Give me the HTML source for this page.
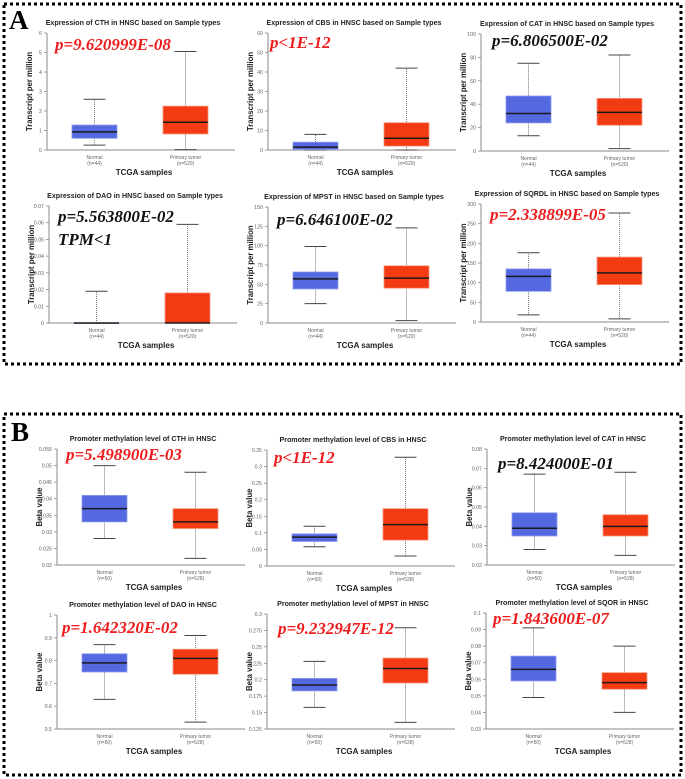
<!DOCTYPE html>
<html><head><meta charset="utf-8">
<style>
html,body{margin:0;padding:0;background:#fff;}
svg{display:block;}
.t{font-family:"Liberation Sans",Arial,sans-serif;}
</style></head>
<body>
<svg id="fig" width="685" height="779" viewBox="0 0 685 779" xmlns="http://www.w3.org/2000/svg">
<rect x="0" y="0" width="685" height="779" fill="#fff"/>
<rect x="4" y="4" width="677" height="360" fill="none" stroke="#000" stroke-width="3" stroke-dasharray="3 3"/>
<rect x="4" y="414" width="677" height="361" fill="none" stroke="#000" stroke-width="3" stroke-dasharray="3 3"/>
<text x="9" y="29" font-family="Liberation Serif,serif" font-weight="bold" font-size="27">A</text>
<text x="11" y="441" font-family="Liberation Serif,serif" font-weight="bold" font-size="27">B</text>
<g id="charts"></g>
</svg>
<script>
// ---- data ----
const titles = [
 "Expression of CTH in HNSC based on Sample types",
 "Expression of CBS in HNSC based on Sample types",
 "Expression of CAT in HNSC based on Sample types",
 "Expression of DAO in HNSC based on Sample types",
 "Expression of MPST in HNSC based on Sample types",
 "Expression of SQRDL in HNSC based on Sample types",
 "Promoter methylation level of CTH in HNSC",
 "Promoter methylation level of CBS in HNSC",
 "Promoter methylation level of CAT in HNSC",
 "Promoter methylation level of DAO in HNSC",
 "Promoter methylation level of MPST in HNSC",
 "Promoter methylation level of SQOR in HNSC"
];
const pValues = ["p=9.620999E-08","p<1E-12","p=6.806500E-02","p=5.563800E-02","p=6.646100E-02","p=2.338899E-05",
 "p=5.498900E-03","p<1E-12","p=8.424000E-01","p=1.642320E-02","p=9.232947E-12","p=1.843600E-07"];
const pSignificant = [true,true,false,false,false,true, true,true,false,true,true,true];
const yMins = [0,0,0,0,0,0, 0.02,0,0.02,0.5,0.125,0.03];
const yMaxs = [6,60,100,0.07,150,300, 0.055,0.35,0.08,1.0,0.3,0.1];
const ySteps = [1,10,20,0.01,25,50, 0.005,0.05,0.01,0.1,0.025,0.01];
// [whiskerLow, q1, median, q3, whiskerHigh]
const normalStats = [
 [0.25,0.6,0.93,1.28,2.6],
 [0,0.3,1.5,4,8],
 [13,24,32,47,75],
 [0,0,0,0,0.019],
 [25,44,57,66,99],
 [18,78,116,135,176],
 [0.028,0.033,0.037,0.041,0.050],
 [0.058,0.074,0.087,0.097,0.12],
 [0.028,0.035,0.039,0.047,0.067],
 [0.63,0.75,0.79,0.83,0.87],
 [0.158,0.183,0.192,0.202,0.228],
 [0.049,0.059,0.066,0.074,0.091]
];
const tumorStats = [
 [0.02,0.82,1.42,2.25,5.05],
 [0,2,6,14,42],
 [2,22,33,45,82],
 [0,0,0,0.018,0.059],
 [3,45,58,74,123],
 [8,95,125,165,277],
 [0.022,0.031,0.033,0.037,0.048],
 [0.03,0.078,0.125,0.173,0.328],
 [0.025,0.035,0.040,0.046,0.068],
 [0.53,0.74,0.81,0.85,0.91],
 [0.135,0.195,0.217,0.233,0.279],
 [0.040,0.054,0.058,0.064,0.080]
];
const normalN = ["(n=44)","(n=44)","(n=44)","(n=44)","(n=44)","(n=44)","(n=50)","(n=50)","(n=50)","(n=50)","(n=50)","(n=50)"];
const tumorN = ["(n=520)","(n=520)","(n=520)","(n=520)","(n=520)","(n=520)","(n=528)","(n=528)","(n=528)","(n=528)","(n=528)","(n=528)"];
const yLabels = ["Transcript per million","Beta value"];

// ---- layout (not data) ----
const axisX = [47,268,481,49,268,481, 57,267,487,57,267,486];
const plotTop = [33,33,34,206,207,204, 449,450,449,615,614,613];
const plotBot = [150,150,151,323,323,322, 565,566,565,729,729,729];
const pPos = [[55,50],[270,48],[492,46],[58,222],[277,225],[490,220],[66,460],[274,463],[498,469],[62,633],[278,634],[493,624]];

const NS="http://www.w3.org/2000/svg";
const root=document.getElementById('charts');
function mk(tag,attrs,parent){const e=document.createElementNS(NS,tag);for(const k in attrs)e.setAttribute(k,attrs[k]);(parent||root).appendChild(e);return e;}
function fmt(v,step){const d=Math.max(0,Math.ceil(-Math.log10(step)+0.001)+ (String(step).length>4?1:0));let s=v.toFixed(Math.min(d+1,4));s=s.replace(/\.?0+$/,'');return s===''?'0':s;}

for(let i=0;i<12;i++){
  const g=mk('g',{});
  
  
  const ax=axisX[i], top=plotTop[i], bot=plotBot[i], end=ax+188;
  const y=v=>bot-(v-yMins[i])/(yMaxs[i]-yMins[i])*(bot-top);
  const xs=v=>ax+v;
  const t=mk('text',{x:ax+86,y:top-8,'text-anchor':'middle','font-size':'7.1','font-weight':'bold',fill:'#222',class:'t'},g);
  t.textContent=titles[i];
  
  
  const ya=mk('line',{x1:ax,y1:top,x2:ax,y2:bot,stroke:'#8a8a8a','stroke-width':1},g);
  
  
  const xa=mk('line',{x1:ax,y1:bot,x2:end,y2:bot,stroke:'#8a8a8a','stroke-width':1},g);
  
  
  const nT=Math.round((yMaxs[i]-yMins[i])/ySteps[i]);
  for(let k=0;k<=nT;k++){
    const v=yMins[i]+k*ySteps[i], yy=y(v);
    mk('line',{x1:ax-3,y1:yy,x2:ax,y2:yy,stroke:'#8a8a8a','stroke-width':0.8},g);
    const tl=mk('text',{x:ax-5,y:yy+2,'text-anchor':'end','font-size':'5.3',fill:'#666',class:'t'},g);
    tl.textContent=fmt(v,ySteps[i]);
    
    
  }
  const yl=mk('text',{x:0,y:0,'text-anchor':'middle','font-size':'7.8','font-weight':'bold',fill:'#222',class:'t',transform:`translate(${ax-15},${(top+bot)/2}) rotate(-90)`},g);
  yl.textContent=i<6?yLabels[0]:yLabels[1];
  
  
  const groups=[[normalStats[i],25,70,'#5468e0','#8d9bf0','normal',normalN[i],'Normal'],[tumorStats[i],116,161,'#f23b12','#f79a80','tumor',tumorN[i],'Primary tumor']];
  groups.forEach(([s,a,b,fill,edge,nm,nn,lab])=>{
    const x1=xs(a),x2=xs(b),cx=(x1+x2)/2;
    mk('line',{x1:cx,y1:y(s[0]),x2:cx,y2:y(s[4]),stroke:'#777','stroke-width':1,'stroke-dasharray':'1 1'},g);
    mk('line',{x1:cx-11,y1:y(s[0]),x2:cx+11,y2:y(s[0]),stroke:'#444','stroke-width':1},g);
    mk('line',{x1:cx-11,y1:y(s[4]),x2:cx+11,y2:y(s[4]),stroke:'#444','stroke-width':1},g);
    const r=mk('rect',{x:x1,y:y(s[3]),width:x2-x1,height:Math.max(0.5,y(s[1])-y(s[3])),fill:fill,stroke:edge,'stroke-width':0.8},g);
    
    
    const m=mk('line',{x1:x1,y1:y(s[2]),x2:x2,y2:y(s[2]),stroke:'#1a1a1a','stroke-width':1.5},g);
    
    
    const c1=mk('text',{x:cx,y:bot+9,'text-anchor':'middle','font-size':'5','fill':'#666',class:'t'},g);
    c1.textContent=lab;
    
    
    const c2=mk('text',{x:cx,y:bot+15,'text-anchor':'middle','font-size':'5','fill':'#666',class:'t'},g);
    c2.textContent=nn;
    
    
  });
  const xl=mk('text',{x:ax+97,y:bot+25,'text-anchor':'middle','font-size':'8','font-weight':'bold',fill:'#222',class:'t'},g);
  xl.textContent='TCGA samples';
  
  
  const p=mk('text',{x:pPos[i][0],y:pPos[i][1],'font-family':'Liberation Serif,serif','font-style':'italic','font-weight':'bold','font-size':'17',fill:pSignificant[i]?'#ee1c1c':'#111'},g);
  p.textContent=pValues[i];
  
  
  if(i===3){
    const tp=mk('text',{x:pPos[i][0],y:pPos[i][1]+23,'font-family':'Liberation Serif,serif','font-style':'italic','font-weight':'bold','font-size':'17',fill:'#111'},g);
    tp.textContent='TPM<1';
    
    
  }
}
</script>
</body></html>
